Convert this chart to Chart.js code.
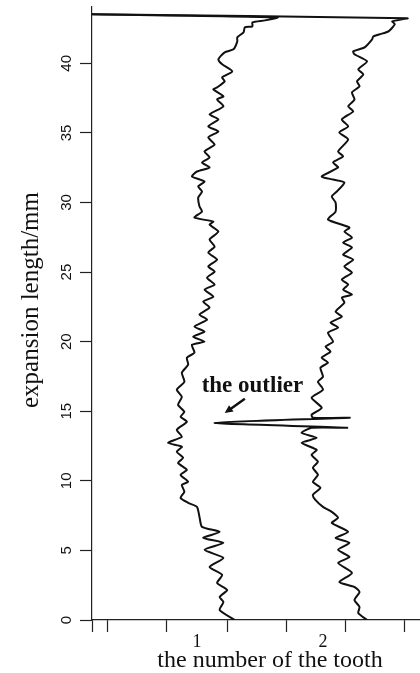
<!DOCTYPE html>
<html lang="en">

<head>
    <meta charset="UTF-8">
    <title>expansion length of the tooth</title>
    <script src="https://cdn.jsdelivr.net/npm/chart.js"></script>
    <style>
        body { margin: 0; background: #ffffff; }
        #grafico { display: block; }
    </style>
</head>

<body>
    <canvas id="grafico" width="420" height="673"></canvas>
</body>

</html>

<script>
    // expansion length (mm) and tooth position
    const tooth1Depth = [
        0, 0.72, 1.29, 1.65, 2.16, 2.66, 3.24, 3.81, 4.46, 5.04,
        5.54, 5.90, 6.33, 6.69, 7.41, 8.13, 8.42, 8.78, 9.21, 9.71,
        9.93, 10.43, 10.79, 11.29, 11.65, 12.09, 12.45, 12.73, 13.17, 13.67,
        14.24, 14.60, 14.96, 15.47, 16.04, 16.55, 17.12, 17.77, 18.35, 18.85,
        19.21, 19.78, 20.00, 20.36, 20.72, 21.08, 21.58, 21.94, 22.45, 22.88,
        23.24, 23.74, 24.10, 24.60, 25.04, 25.40, 25.90, 26.40, 26.83, 27.34,
        27.91, 28.42, 28.63, 28.92, 29.35, 29.71, 30.36, 30.79, 31.15, 31.51,
        31.87, 32.23, 32.52, 32.88, 33.24, 33.67, 34.17, 34.68, 35.11, 35.47,
        35.97, 36.33, 36.91, 37.41, 37.63, 38.13, 38.27, 38.71, 38.99, 39.42,
        39.93, 40.29, 40.79, 41.01, 41.58, 41.87, 42.23, 42.59, 42.66, 42.95,
        43.09, 43.31, 43.53
    ];
    const tooth1Pos = [
        1.30, 1.18, 1.21, 1.18, 1.24, 1.16, 1.20, 1.10, 1.21, 1.06,
        1.21, 1.05, 1.18, 1.04, 1.02, 1.00, 0.93, 0.87, 0.90, 0.88,
        0.93, 0.87, 0.92, 0.85, 0.89, 0.84, 0.88, 0.77, 0.88, 0.84,
        0.92, 0.87, 0.90, 0.85, 0.88, 0.84, 0.90, 0.88, 0.93, 0.92,
        0.98, 0.96, 1.06, 0.97, 1.06, 0.98, 1.08, 1.02, 1.10, 1.05,
        1.13, 1.06, 1.14, 1.08, 1.14, 1.09, 1.16, 1.09, 1.14, 1.10,
        1.17, 1.10, 1.13, 0.98, 1.04, 1.02, 1.01, 1.04, 1.01, 1.06,
        0.96, 1.00, 1.10, 1.04, 1.10, 1.06, 1.14, 1.09, 1.17, 1.09,
        1.17, 1.10, 1.21, 1.16, 1.21, 1.13, 1.16, 1.22, 1.20, 1.28,
        1.20, 1.17, 1.22, 1.29, 1.32, 1.32, 1.37, 1.38, 1.44, 1.44,
        1.54, 1.64, 0.167
    ];

    const tooth2Depth = [
        0, 0.50, 0.94, 1.44, 2.01, 2.37, 2.73, 3.38, 4.10, 4.53,
        5.04, 5.54, 5.90, 6.33, 6.98, 7.34, 7.77, 8.13, 8.63, 8.99,
        9.50, 9.93, 10.43, 10.94, 11.37, 11.87, 12.23, 12.73, 13.09, 13.45,
        13.81, 13.81, 14.17, 14.53, 14.53, 14.75, 15.25, 15.97, 16.55, 17.12,
        17.48, 18.13, 18.49, 18.85, 19.28, 19.64, 20.00, 20.65, 21.01, 21.37,
        21.80, 22.16, 22.81, 23.17, 23.38, 23.74, 24.10, 24.46, 24.96, 25.40,
        25.90, 26.26, 26.76, 27.12, 27.48, 27.91, 28.20, 28.78, 29.35, 30.00,
        30.43, 30.79, 31.44, 31.65, 31.87, 32.52, 32.88, 33.31, 33.67, 34.53,
        35.04, 35.47, 35.97, 36.55, 36.91, 37.41, 37.91, 38.35, 38.71, 39.21,
        39.57, 40.14, 40.65, 40.86, 41.15, 41.73, 41.94, 42.09, 42.30, 42.81,
        43.02, 43.24, 43.53
    ];
    const tooth2Pos = [
        2.35, 2.28, 2.29, 2.25, 2.29, 2.25, 2.13, 2.23, 2.12, 2.21,
        2.12, 2.21, 2.10, 2.20, 2.07, 2.12, 2.07, 2.00, 1.94, 1.92,
        1.98, 1.92, 1.96, 1.92, 1.96, 1.91, 1.95, 1.83, 1.95, 1.83,
        1.91, 2.19, 1.14, 2.21, 1.92, 1.91, 1.99, 1.91, 2.00, 1.96,
        2.00, 1.98, 2.04, 1.99, 2.06, 2.02, 2.08, 2.04, 2.12, 2.06,
        2.15, 2.10, 2.17, 2.15, 2.23, 2.16, 2.20, 2.15, 2.23, 2.17,
        2.24, 2.16, 2.23, 2.16, 2.23, 2.17, 2.21, 2.04, 2.10, 2.10,
        2.07, 2.11, 2.17, 2.08, 1.99, 2.12, 2.08, 2.16, 2.12, 2.20,
        2.13, 2.20, 2.15, 2.24, 2.20, 2.25, 2.23, 2.29, 2.27, 2.32,
        2.28, 2.35, 2.25, 2.24, 2.33, 2.39, 2.40, 2.45, 2.52, 2.57,
        2.55, 2.67, 0.167
    ];

    // axis ticks
    const yTicks = [0, 5, 10, 15, 20, 25, 30, 35, 40];
    const xTickMarks = [0.167, 0.29, 0.76, 1.24, 1.71, 2.18, 2.65];
    const xTickLabels = [1, 2];

    const yTitle = 'expansion length/mm';
    const xTitle = 'the number of the tooth';

    // annotation for the spike on the second tooth
    const outlierText = 'the outlier';
    const outlierTextAt = { x: 1.44, y: 16.38 };
    const outlierArrowFrom = { x: 1.38, y: 15.9 };
    const outlierArrowTo = { x: 1.22, y: 14.87 };

    function juntar(depth, pos) {
        return depth.map(function (d, i) {
            return { x: pos[i], y: d };
        });
    }

    const textosPlugin = {
        id: 'textos',
        afterDraw: function (chart) {
            const ctx = chart.ctx;
            const sx = chart.scales.x;
            const sy = chart.scales.y;
            const area = chart.chartArea;

            ctx.save();
            ctx.fillStyle = '#111111';

            // y tick labels, turned like the original
            ctx.font = '15px "Liberation Sans", Arial, sans-serif';
            ctx.textAlign = 'center';
            ctx.textBaseline = 'middle';
            yTicks.forEach(function (v) {
                ctx.save();
                ctx.translate(area.left - 25, sy.getPixelForValue(v));
                ctx.rotate(-Math.PI / 2);
                ctx.fillText(String(v), 0, 0);
                ctx.restore();
            });

            // y title
            ctx.save();
            ctx.font = '25px "Liberation Serif", "Times New Roman", serif';
            ctx.translate(31, 300);
            ctx.rotate(-Math.PI / 2);
            ctx.fillText(yTitle, 0, 0);
            ctx.restore();

            // x title
            ctx.font = '24px "Liberation Serif", "Times New Roman", serif';
            ctx.textBaseline = 'alphabetic';
            ctx.fillText(xTitle, 270, 667);

            // the outlier
            ctx.font = 'bold 23px "Liberation Serif", "Times New Roman", serif';
            ctx.fillText(outlierText, sx.getPixelForValue(outlierTextAt.x), sy.getPixelForValue(outlierTextAt.y));

            const x1 = sx.getPixelForValue(outlierArrowFrom.x);
            const y1 = sy.getPixelForValue(outlierArrowFrom.y);
            const x2 = sx.getPixelForValue(outlierArrowTo.x);
            const y2 = sy.getPixelForValue(outlierArrowTo.y);
            const ang = Math.atan2(y2 - y1, x2 - x1);
            ctx.strokeStyle = '#111111';
            ctx.lineWidth = 2.5;
            ctx.beginPath();
            ctx.moveTo(x1, y1);
            ctx.lineTo(x2 - 5 * Math.cos(ang), y2 - 5 * Math.sin(ang));
            ctx.stroke();
            ctx.beginPath();
            ctx.moveTo(x2, y2);
            ctx.lineTo(x2 - 9 * Math.cos(ang - 0.45), y2 - 9 * Math.sin(ang - 0.45));
            ctx.lineTo(x2 - 9 * Math.cos(ang + 0.45), y2 - 9 * Math.sin(ang + 0.45));
            ctx.closePath();
            ctx.fill();

            ctx.restore();
        }
    };

    const config = {
        type: 'scatter',
        data: {
            datasets: [{
                label: 'tooth 1',
                data: juntar(tooth1Depth, tooth1Pos),
                showLine: true,
                borderColor: '#111111',
                borderWidth: 2,
                pointRadius: 0,
                tension: 0.2
            }, {
                label: 'tooth 2',
                data: juntar(tooth2Depth, tooth2Pos),
                showLine: true,
                borderColor: '#111111',
                borderWidth: 2,
                pointRadius: 0,
                tension: 0.2
            }]
        },
        options: {
            responsive: false,
            animation: false,
            devicePixelRatio: 1,
            layout: {
                padding: { top: 7, right: 0, left: 0, bottom: 0 }
            },
            plugins: {
                legend: { display: false },
                tooltip: { enabled: false }
            },
            scales: {
                x: {
                    type: 'linear',
                    min: 0.167,
                    max: 2.77,
                    afterFit: function (scale) { scale.height = 53; },
                    afterBuildTicks: function (scale) {
                        scale.ticks = xTickMarks.concat(xTickLabels)
                            .sort(function (a, b) { return a - b; })
                            .map(function (v) { return { value: v }; });
                    },
                    ticks: {
                        autoSkip: false,
                        maxRotation: 0,
                        padding: -1,
                        color: '#111111',
                        font: { family: '"Liberation Serif", "Times New Roman", serif', size: 18 },
                        callback: function (value) {
                            return xTickLabels.indexOf(value) >= 0 ? String(value) : '';
                        }
                    },
                    grid: {
                        drawOnChartArea: false,
                        drawTicks: true,
                        tickLength: 12,
                        tickWidth: 1.2,
                        tickColor: function (c) {
                            if (c.tick && xTickLabels.indexOf(c.tick.value) >= 0) {
                                return 'rgba(0,0,0,0)';
                            }
                            return '#222222';
                        }
                    },
                    border: { display: true, color: '#222222', width: 1.2 }
                },
                y: {
                    type: 'linear',
                    min: 0,
                    max: 44.05,
                    afterFit: function (scale) { scale.width = 92; },
                    afterBuildTicks: function (scale) {
                        scale.ticks = yTicks.map(function (v) { return { value: v }; });
                    },
                    ticks: { display: false },
                    grid: {
                        drawOnChartArea: false,
                        drawTicks: true,
                        tickLength: 12,
                        tickWidth: 1.2,
                        tickColor: '#222222'
                    },
                    border: { display: true, color: '#222222', width: 1.2 }
                }
            }
        },
        plugins: [textosPlugin]
    };

    const grafico = new Chart(document.getElementById('grafico'), config);
</script>
